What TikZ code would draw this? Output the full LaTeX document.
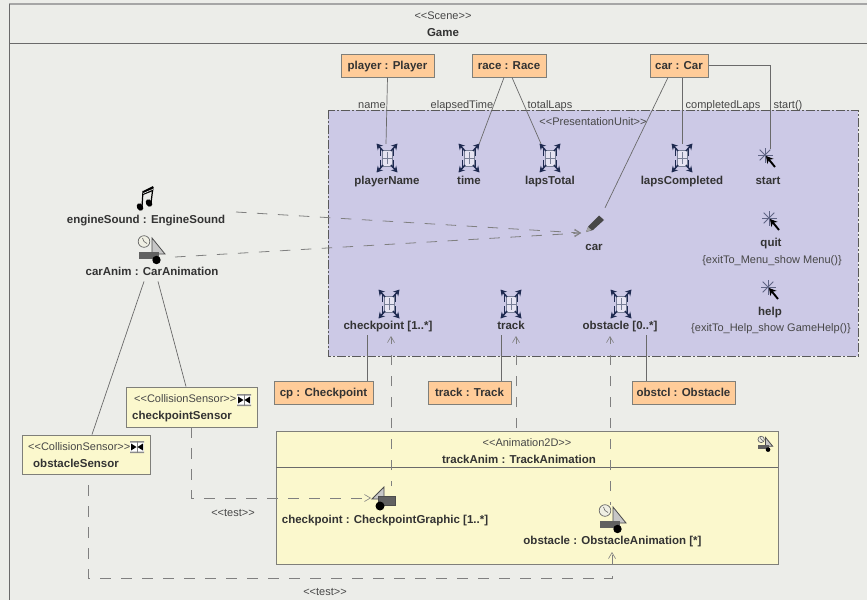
\documentclass[tikz,border=0pt]{standalone}
\usepackage{fontspec}
\setmainfont{Liberation Sans}
\usetikzlibrary{arrows.meta,calc}
\definecolor{bgc}{HTML}{ECEDE9}
\definecolor{puc}{HTML}{CCC9E6}
\definecolor{orc}{HTML}{FFCC99}
\definecolor{yec}{HTML}{FBF8CD}
\definecolor{bdc}{HTML}{7F7F7A}
\definecolor{lnc}{HTML}{6A6A6A}
\definecolor{txc}{HTML}{333333}
\definecolor{nvc}{HTML}{1E2A50}
\newcommand{\stereo}[1]{<{}<#1>{}>}
\tikzset{
 x=1pt,y=-1pt,
 bold/.style={font=\fontsize{11.5}{13}\selectfont\bfseries,text=txc,inner sep=0pt,text height=8.5pt,text depth=0pt},
 plain/.style={font=\fontsize{11}{13}\selectfont,text=txc!90,inner sep=0pt,text height=8pt,text depth=0pt},
 objbox/.style={draw=bdc,line width=1pt,fill=orc,inner sep=0pt,minimum height=23pt,font=\fontsize{11.5}{13}\selectfont\bfseries,text=txc,text height=8.5pt,text depth=0pt},
 sensorbox/.style={draw=bdc,line width=1pt,fill=yec},
 assoc/.style={draw=lnc,line width=.7pt},
 dep/.style={draw=lnc!85,line width=.8pt,dash pattern=on 10.5pt off 10.5pt},
 arr/.style={-{Straight Barb[length=6pt,width=7pt,line width=.6pt]}},
 iconbox/.style={inner sep=0pt,minimum width=20pt,minimum height=28pt},
 ptrbox/.style={inner sep=0pt,minimum width=18pt,minimum height=20pt},
 frameicon/.pic={
  \draw[nvc!60,line width=.6pt,fill=puc!50!white] (-5,-8) rectangle (5,8);
  \draw[nvc!60,line width=.7pt] (0,-6)--(0,6) (-5,0)--(5,0);
  \foreach \sx in {-1,1}\foreach \sy in {-1,1}{
   \draw[nvc,line width=1.5pt,-{Stealth[length=6pt,width=7pt]}] (\sx*4,\sy*7)--(\sx*10.5,\sy*14.5);
   \draw[nvc,line width=1.5pt] (\sx*6.5,\sy*2)--(\sx*6.5,\sy*9);
  }
 },
 ptricon/.pic={
  \foreach \a in {0,45,90,135,180,225,270,315}
   \draw[black!15!puc!45!nvc,line width=1pt] (-3,-4)--++(\a:7.5);
  \draw[black,line width=1.9pt,{Stealth[length=7pt,width=8pt]}-] (-2,-3)--(7,8);
 },
 penicon/.pic={
  \fill[black!72] (-9,8)--(-6.5,2)--(4,-8.5)--(9,-4)--(-2,6)--cycle;
  \fill[black!35] (-9,8)--(-7,3)--(-3.5,6)--cycle;
 },
 noteicon/.pic={
  \fill[black] (-6,10) ellipse [x radius=3,y radius=4,rotate=30];
  \fill[black] (3,6) ellipse [x radius=3,y radius=4,rotate=30];
  \draw[black,line width=1.2pt] (-4,10)--(-3,-6) (5,6)--(7,-10);
  \fill[black] (-3,-6)--(7,-11)--(7,-6)--(-3,-2)--cycle;
  \draw[bgc,line width=.6pt] (-3,-3.5)--(7,-7.8);
 },
 animicon/.pic={
  \draw[black!60,fill=bgc!80!yec,line width=.7pt] (-7,-6.5) circle (5.8);
  \draw[black!60,line width=.6pt] (-7,-6.5)--(-8.5,-10) (-7,-6.5)--(-4,-4.5);
  \draw[black!70,fill=black!22,line width=.8pt] (1,-10)--(14,6)--(1,6)--cycle;
  \fill[black!62] (-12,4) rectangle (8,11);
  \fill[black] (5.5,12) circle (4.2);
 },
 graphicon/.pic={
  \draw[black!70,fill=black!22,line width=.8pt] (4,-10)--(-8,2)--(4,2)--cycle;
  \draw[black!70,fill=black!62,line width=.4pt] (-2,-1) rectangle (15,8);
  \fill[black] (0,9) circle (4.5);
 },
 bowicon/.pic={
  \fill[white] (-7,-6) rectangle (7,6);
  \fill[black!45] (-7,-6) rectangle (7,-4.5) (-7,4.5) rectangle (7,6);
  \draw[black!50,line width=.5pt] (0,-6)--(0,6);
  \fill[black] (-6,-3.5)--(-.5,0)--(-6,3.5)--cycle (6,-3.5)--(.5,0)--(6,3.5)--cycle;
 },
}
\begin{document}
\begin{tikzpicture}
\useasboundingbox (0,0) rectangle (867,600);
\fill[bgc] (0,0) rectangle (867,600);
% scene frame
\draw[black!35,line width=1.3pt] (9,4)--(867,4);
\draw[lnc,line width=.8pt] (9,43)--(867,43);
\draw[lnc,line width=.9pt] (9,4)--(9,600);
\node[plain] (sceneSt) at (443,15) {\stereo{Scene}};
\node[bold] (sceneName) at (443,32) {Game};
% presentation unit
\draw[fill=puc,draw=black!65,line width=1pt,dash pattern=on 9pt off 2pt on 2pt off 2pt] (328,110) rectangle (858,356);
\node[plain] (puSt) at (593,121) {\stereo{PresentationUnit}};
% track animation
\draw[fill=yec,draw=bdc,line width=1pt] (276,431) rectangle (778,564);
\draw[lnc,line width=.8pt] (276,467)--(778,467);
\node[plain] (taSt) at (527,442) {\stereo{Animation2D}};
\node[bold] (taName) at (519,459) {trackAnim : TrackAnimation};
\node[inner sep=0pt,minimum size=14pt] (taIcon) at (765,443) {};
\pic[scale=.55] at (taIcon) {animicon};
% object boxes
\node[objbox,minimum width=93pt] (player) at (387.5,65.5) {player : Player};
\node[objbox,minimum width=74pt] (race) at (509,65.5) {race : Race};
\node[objbox,minimum width=58pt] (car) at (679,65.5) {car : Car};
\node[objbox,minimum width=99pt] (cp) at (323.5,392.5) {cp : Checkpoint};
\node[objbox,minimum width=83pt] (trackB) at (469.5,392.5) {track : Track};
\node[objbox,minimum width=103pt] (obstcl) at (683.5,392.5) {obstcl : Obstacle};
% frame icons
\foreach \n/\x/\y in {playerNameIcon/387/158,timeIcon/469/158,lapsTotalIcon/550/158,lapsCompletedIcon/682/158,checkpointIcon/389/304,trackIcon/511/304,obstacleIcon/621/304}{
 \node[iconbox] (\n) at (\x,\y) {};
 \pic at (\n) {frameicon};
}
\node[bold] (playerNameL) at (387,180) {playerName};
\node[bold] (timeL) at (469,180) {time};
\node[bold] (lapsTotalL) at (550,180) {lapsTotal};
\node[bold] (lapsCompletedL) at (682,180) {lapsCompleted};
\node[bold] (checkpointL) at (388,325) {checkpoint [1..*]};
\node[bold] (trackL) at (511,325) {track};
\node[bold] (obstacleL) at (620,325) {obstacle [0..*]};
% pointer icons
\node[ptrbox] (startIcon) at (768,159) {}; \pic at (startIcon) {ptricon};
\node[ptrbox] (quitIcon) at (772,222) {}; \pic at (quitIcon) {ptricon};
\node[ptrbox] (helpIcon) at (771,291) {}; \pic at (helpIcon) {ptricon};
\node[bold] (startL) at (768,180) {start};
\node[bold] (quitL) at (771,242) {quit};
\node[plain] (quitS) at (772,259) {\{exitTo\_Menu\_show Menu()\}};
\node[bold] (helpL) at (770,311) {help};
\node[plain] (helpS) at (771,327) {\{exitTo\_Help\_show GameHelp()\}};
% car
\node[inner sep=0pt,minimum size=18pt] (carIcon) at (595,224) {}; \pic at (carIcon) {penicon};
\node[bold] (carL) at (594,246) {car};
% sound and anim
\node[inner sep=0pt,minimum width=20pt,minimum height=24pt] (soundIcon) at (146,197) {}; \pic at (soundIcon) {noteicon};
\node[bold] (soundL) at (146,219) {engineSound : EngineSound};
\node[inner sep=0pt,minimum width=30pt,minimum height=26pt] (animIcon) at (151,248) {}; \pic at (animIcon) {animicon};
\node[bold] (animL) at (152,271) {carAnim : CarAnimation};
% sensors
\node[sensorbox,minimum width=131pt,minimum height=40pt,inner sep=0pt] (cpS) at (191.5,407) {};
\node[plain,anchor=west] (cpSt) at (134,398) {\stereo{CollisionSensor}};
\node[bold,anchor=west] (cpSn) at (132,415) {checkpointSensor};
\node[inner sep=0pt,minimum size=12pt] (cpBow) at (244,400) {}; \pic at (cpBow) {bowicon};
\node[sensorbox,minimum width=128pt,minimum height=39pt,inner sep=0pt] (obS) at (86,454.5) {};
\node[plain,anchor=west] (obSt) at (28,446) {\stereo{CollisionSensor}};
\node[bold,anchor=west] (obSn) at (33,463) {obstacleSensor};
\node[inner sep=0pt,minimum size=12pt] (obBow) at (137,447) {}; \pic at (obBow) {bowicon};
% inner graphics
\node[inner sep=0pt,minimum width=26pt,minimum height=20pt] (cgIcon) at (380,497) {}; \pic at (cgIcon) {graphicon};
\node[bold] (cgL) at (385,519) {checkpoint : CheckpointGraphic [1..*]};
\node[inner sep=0pt,minimum width=30pt,minimum height=26pt] (oaIcon) at (612,517) {}; \pic at (oaIcon) {animicon};
\node[bold] (oaL) at (612.5,540) {obstacle : ObstacleAnimation [*]};
% labels
\node[plain] (nameL) at (372,104) {name};
\node[plain] (elL) at (462,104) {elapsedTime};
\node[plain] (totL) at (550,104) {totalLaps};
\node[plain] (cplL) at (723,104) {completedLaps};
\node[plain] (stL) at (788,104) {start()};
\node[plain] (t1) at (233,512) {\stereo{test}};
\node[plain] (t2) at (325,591) {\stereo{test}};
% associations
\draw[assoc] (player.south) -- ([xshift=-1pt]playerNameIcon.north);
\draw[assoc] ([xshift=-5pt]race.south) -- (timeIcon.north east);
\draw[assoc] ([xshift=3pt]race.south) -- ([xshift=-9pt]lapsTotalIcon.north);
\draw[assoc] ([xshift=-11pt]car.south) -- ([xshift=10pt,yshift=7pt]carIcon.north);
\draw[assoc] ([xshift=3pt]car.south) -- (lapsCompletedIcon.north);
\draw[assoc] (car.east) -| ([xshift=2pt]startIcon.north);
\draw[assoc] ([xshift=-8pt,yshift=-6pt]animL.south) -- ([xshift=6pt]obS.north);
\draw[assoc] ([xshift=6pt,yshift=-6pt]animL.south) -- ([xshift=-5.5pt]cpS.north);
\draw[assoc] ([xshift=-21pt,yshift=-6pt]checkpointL.south) -- ([xshift=43.5pt]cp.north);
\draw[assoc] ([yshift=-6pt,xshift=-10pt]trackL.south) -- ([xshift=31.5pt]trackB.north);
\draw[assoc] ([xshift=26pt,yshift=-6pt]obstacleL.south) -- ([xshift=-37.5pt]obstcl.north);
% dependencies
\coordinate (c1) at (391,336);
\coordinate (c2) at (516,336);
\coordinate (c3) at (610,336);
\coordinate (soundEnd) at (236,212);
\coordinate (carT) at (581,233);
\draw[dep,arr] (soundEnd) -- (carT);
\draw[dep,arr] (175,257) -- (carT);
\draw[dep,dash phase=5pt,arr] (391,486) -- (c1);
\draw[dep,dash phase=18pt,arr] (516,431) -- (c2);
\draw[dep,dash phase=7pt,arr] (610,505) -- (c3);
\draw[dep,arr] (191,427) |- (371,498);
\draw[dep,arr] (88,485) |- (612,578) -- (612,552);
\end{tikzpicture}
\end{document}
